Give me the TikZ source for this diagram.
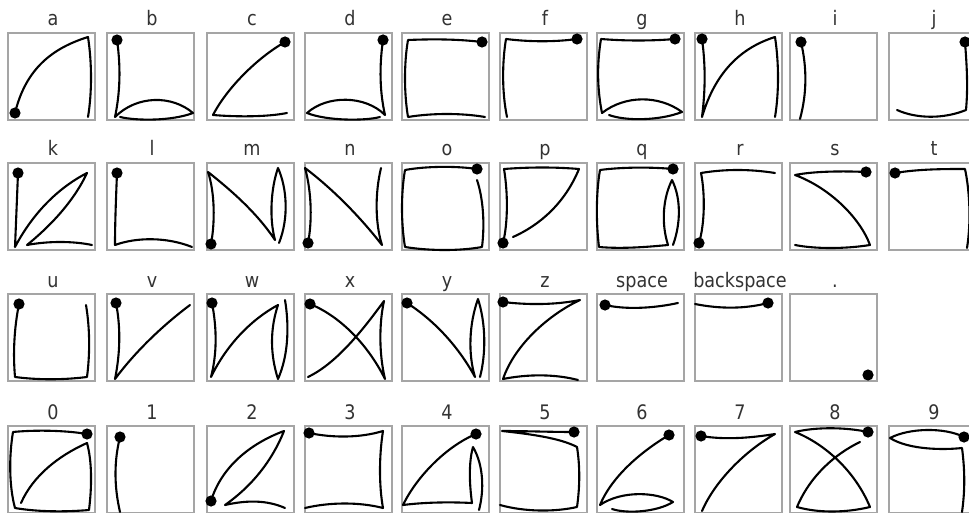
\documentclass[tikz,border=0pt]{standalone}
\usepackage{fontspec}
\setmainfont{DejaVu Sans}[FakeStretch=0.88]
\definecolor{boxgray}{RGB}{165,165,165}
\tikzset{
 cellbox/.style={draw=boxgray, line width=1.2pt, minimum width=87pt, minimum height=87pt, anchor=north west, inner sep=0pt, outer sep=0pt},
 lab/.style={anchor=base, inner sep=0pt, font=\fontsize{20}{20}\selectfont, text=black!80},
 pen/.style={draw=black, line width=2.1pt, line cap=round, line join=round},
}
\newcommand\startdot[1]{\fill[black] #1 circle (5.6pt);}
\newcommand\glyph[5]{\begin{scope}[shift={(#2,#3)}]\node[cellbox] (#1) at (0,0) {};\node[lab] (#1-lab) at (45,-7) {#4};#5\end{scope}}
\begin{document}
\begin{tikzpicture}[x=1pt,y=-1pt]
\fill[white] (0,0) rectangle (969,513);
\useasboundingbox (0,0) rectangle (969,513);
% ---- row 1
\glyph{ga}{8}{33}{a}{\draw[pen] (7,80) .. controls (18,35) and (45,15) .. (80,4) .. controls (84,30) and (84,60) .. (80,84); \startdot{(7,80)}}
\glyph{gb}{107}{33}{b}{\draw[pen] (10,7) .. controls (14,35) and (13,60) .. (8,84) .. controls (30,62) and (65,62) .. (86,80) .. controls (65,88) and (30,88) .. (13,84); \startdot{(10,7)}}
\glyph{gc}{207}{33}{c}{\draw[pen] (78,9) .. controls (50,25) and (20,55) .. (6,82) .. controls (30,84) and (60,84) .. (80,80); \startdot{(78,9)}}
\glyph{gd}{305}{33}{d}{\draw[pen] (78,7) .. controls (74,35) and (75,60) .. (80,82) .. controls (60,62) and (22,62) .. (2,80) .. controls (22,88) and (60,88) .. (75,84); \startdot{(78,7)}}
\glyph{ge}{402}{33}{e}{\draw[pen] (80,9) .. controls (55,6) and (30,6) .. (6,7) .. controls (2,30) and (2,60) .. (6,84) .. controls (30,80) and (60,80) .. (83,84); \startdot{(80,9)}}
\glyph{gf}{500}{33}{f}{\draw[pen] (77,6) .. controls (55,9) and (30,9) .. (6,6) .. controls (2,30) and (2,60) .. (7,84); \startdot{(77,6)}}
\glyph{gg}{597}{33}{g}{\draw[pen] (78,6) .. controls (55,8) and (28,8) .. (4,6) .. controls (0,30) and (0,55) .. (5,80) .. controls (28,62) and (62,62) .. (85,79) .. controls (62,88) and (28,88) .. (12,82); \startdot{(78,6)}}
\glyph{gh}{695}{33}{h}{\draw[pen] (7,6) .. controls (11,35) and (10,60) .. (7,84) .. controls (20,40) and (45,15) .. (80,4) .. controls (84,30) and (84,60) .. (80,84); \startdot{(7,6)}}
\glyph{gi}{790}{33}{i}{\draw[pen] (11,9) .. controls (17,35) and (17,60) .. (10,86); \startdot{(11,9)}}
\glyph{gj}{889}{33}{j}{\draw[pen] (76,9) .. controls (78,35) and (79,55) .. (77,77) .. controls (55,86) and (28,86) .. (8,77); \startdot{(76,9)}}
% ---- row 2
\glyph{gk}{8}{163}{k}{\draw[pen] (10,10) .. controls (9,35) and (8,60) .. (7,84) .. controls (25,50) and (50,25) .. (79,10) .. controls (65,40) and (40,65) .. (19,82) .. controls (40,78) and (65,78) .. (84,82); \startdot{(10,10)}}
\glyph{gl}{107}{163}{l}{\draw[pen] (10,10) .. controls (9,35) and (8,60) .. (8,82) .. controls (30,74) and (60,74) .. (85,84); \startdot{(10,10)}}
\glyph{gm}{207}{163}{m}{\draw[pen] (4,81) .. controls (8,60) and (8,30) .. (1,9) .. controls (25,28) and (50,50) .. (68,77) .. controls (62,55) and (64,25) .. (71,5) .. controls (80,25) and (82,55) .. (72,80); \startdot{(4,81)}}
\glyph{gn}{305}{163}{n}{\draw[pen] (3,80) .. controls (7,60) and (7,30) .. (0,5) .. controls (25,24) and (52,50) .. (77,82) .. controls (70,60) and (70,30) .. (76,5); \startdot{(3,80)}}
\glyph{go}{402}{163}{o}{\draw[pen] (75,6) .. controls (55,3) and (25,3) .. (3,7) .. controls (-1,30) and (-1,60) .. (3,84) .. controls (28,88) and (58,88) .. (80,84) .. controls (83,60) and (81,35) .. (75,17); \startdot{(75,6)}}
\glyph{gp}{500}{163}{p}{\draw[pen] (3,80) .. controls (8,60) and (8,30) .. (4,6) .. controls (30,4) and (55,4) .. (79,6) .. controls (65,40) and (40,62) .. (13,74); \startdot{(3,80)}}
\glyph{gq}{597}{163}{q}{\draw[pen] (76,6) .. controls (55,4) and (25,4) .. (3,7) .. controls (-1,30) and (-1,60) .. (2,84) .. controls (25,86) and (50,84) .. (71,82) .. controls (64,60) and (66,35) .. (75,17) .. controls (84,35) and (84,60) .. (76,82); \startdot{(76,6)}}
\glyph{gr}{695}{163}{r}{\draw[pen] (4,80) .. controls (10,60) and (10,30) .. (6,10) .. controls (30,6) and (55,6) .. (80,10); \startdot{(4,80)}}
\glyph{gs}{790}{163}{s}{\draw[pen] (76,9) .. controls (55,8) and (25,8) .. (5,12) .. controls (40,25) and (70,55) .. (80,82) .. controls (55,86) and (25,86) .. (5,82); \startdot{(76,9)}}
\glyph{gt}{889}{163}{t}{\draw[pen] (6,10) .. controls (30,6) and (55,6) .. (76,6) .. controls (81,30) and (82,60) .. (78,85); \startdot{(6,10)}}
% ---- row 3
\glyph{gu}{8}{294}{u}{\draw[pen] (11,10) .. controls (6,35) and (5,60) .. (7,83) .. controls (30,86) and (55,86) .. (79,83) .. controls (82,60) and (82,35) .. (78,11); \startdot{(11,10)}}
\glyph{gv}{107}{294}{v}{\draw[pen] (9,9) .. controls (14,35) and (13,60) .. (8,85) .. controls (28,58) and (55,32) .. (83,11); \startdot{(9,9)}}
\glyph{gw}{207}{294}{w}{\draw[pen] (5,9) .. controls (10,35) and (10,60) .. (4,83) .. controls (20,50) and (45,25) .. (71,11) .. controls (63,35) and (63,60) .. (71,85) .. controls (82,60) and (82,30) .. (78,6); \startdot{(5,9)}}
\glyph{gx}{305}{294}{x}{\draw[pen] (5,10) .. controls (30,20) and (60,45) .. (80,85) .. controls (74,60) and (74,30) .. (79,7) .. controls (55,40) and (30,70) .. (3,83); \startdot{(5,10)}}
\glyph{gy}{402}{294}{y}{\draw[pen] (5,9) .. controls (30,25) and (55,50) .. (73,83) .. controls (66,60) and (67,30) .. (76,5) .. controls (84,30) and (84,60) .. (78,83); \startdot{(5,9)}}
\glyph{gz}{500}{294}{z}{\draw[pen] (3,8) .. controls (28,11) and (55,11) .. (80,6) .. controls (50,20) and (15,50) .. (3,85) .. controls (28,80) and (55,80) .. (78,86); \startdot{(3,8)}}
\glyph{gspace}{597}{294}{space}{\draw[pen] (8,11) .. controls (30,16) and (58,14) .. (81,9); \startdot{(8,11)}}
\glyph{gback}{695}{294}{backspace}{\draw[pen] (73,9) .. controls (50,15) and (25,15) .. (0,10); \startdot{(73,9)}}
\glyph{gperiod}{790}{294}{.}{\startdot{(78,81)}}
% ---- row 4
\glyph{g0}{8}{426}{0}{\draw[pen] (79,8) .. controls (55,4) and (25,4) .. (5,6) .. controls (1,30) and (1,60) .. (7,82) .. controls (30,86) and (58,86) .. (81,84) .. controls (84,60) and (84,35) .. (79,17) .. controls (50,30) and (25,50) .. (13,77); \startdot{(79,8)}}
\glyph{g1}{107}{426}{1}{\draw[pen] (13,11) .. controls (7,35) and (7,60) .. (13,86); \startdot{(13,11)}}
\glyph{g2}{207}{426}{2}{\draw[pen] (4,75) .. controls (14,42) and (42,18) .. (77,5) .. controls (65,35) and (45,60) .. (18,79) .. controls (40,74) and (60,74) .. (78,82); \startdot{(4,75)}}
\glyph{g3}{305}{426}{3}{\draw[pen] (4,7) .. controls (28,12) and (55,12) .. (78,5) .. controls (74,30) and (74,60) .. (78,82) .. controls (55,76) and (25,76) .. (0,82); \startdot{(4,7)}}
\glyph{g4}{402}{426}{4}{\draw[pen] (74,8) .. controls (45,20) and (15,50) .. (1,79) .. controls (25,76) and (50,76) .. (70,77) .. controls (67,55) and (67,35) .. (71,21) .. controls (82,40) and (82,65) .. (77,84); \startdot{(74,8)}}
\glyph{g5}{500}{426}{5}{\draw[pen] (74,6) .. controls (50,6) and (25,5) .. (2,5) .. controls (30,8) and (60,12) .. (77,21) .. controls (80,40) and (80,60) .. (77,81) .. controls (55,86) and (25,86) .. (0,79); \startdot{(74,6)}}
\glyph{g6}{597}{426}{6}{\draw[pen] (72,9) .. controls (45,25) and (15,50) .. (3,79) .. controls (25,64) and (60,66) .. (76,76) .. controls (60,86) and (30,88) .. (15,83); \startdot{(72,9)}}
\glyph{g7}{695}{426}{7}{\draw[pen] (6,10) .. controls (30,14) and (55,12) .. (80,8) .. controls (50,25) and (20,55) .. (7,85); \startdot{(6,10)}}
\glyph{g8}{790}{426}{8}{\draw[pen] (78,6) .. controls (55,1) and (25,1) .. (5,6) .. controls (35,18) and (65,45) .. (80,81) .. controls (55,87) and (28,87) .. (7,81) .. controls (20,50) and (45,28) .. (70,16); \startdot{(78,6)}}
\glyph{g9}{889}{426}{9}{\draw[pen] (75,11) .. controls (55,1) and (20,2) .. (1,12) .. controls (20,24) and (55,24) .. (73,22) .. controls (76,45) and (76,65) .. (73,86); \startdot{(75,11)}}
\end{tikzpicture}
\end{document}
